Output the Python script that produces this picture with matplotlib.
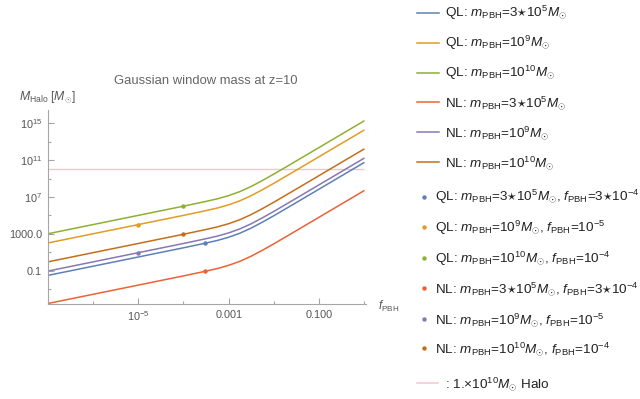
import numpy as np
import matplotlib
matplotlib.use('Agg')
import matplotlib.pyplot as plt
from matplotlib.lines import Line2D

plt.rcParams['font.family'] = 'Liberation Sans'
plt.rcParams['mathtext.fontset'] = 'custom'
plt.rcParams['mathtext.rm'] = 'Liberation Sans'
plt.rcParams['mathtext.it'] = 'Liberation Sans:italic'
plt.rcParams['mathtext.bf'] = 'Liberation Sans:bold'
plt.rcParams['mathtext.fallback'] = 'cm'

# log10 f_PBH sample points
log_f = [-7, -6.5, -6, -5.5, -5, -4.5, -4, -3.75, -3.5, -3.25, -3, -2.75,
         -2.5, -2.25, -2, -1.75, -1.5, -1, -0.5, 0]

# log10 M_halo, quasi-linear (QL) and non-linear (NL)
ql_3e5 = [-1.52, -1.02, -0.52, -0.02, 0.48, 0.98, 1.48, 1.74, 2.00, 2.28, 2.63,
          3.07, 3.63, 4.28, 4.97, 5.69, 6.41, 7.86, 9.31, 10.76]
ql_1e9 = [2.00, 2.50, 3.00, 3.50, 4.00, 4.50, 5.00, 5.26, 5.52, 5.80, 6.15,
          6.59, 7.15, 7.80, 8.49, 9.21, 9.93, 11.38, 12.83, 14.28]
ql_1e10 = [3.00, 3.50, 4.00, 4.50, 5.00, 5.50, 6.00, 6.26, 6.52, 6.80, 7.15,
           7.59, 8.15, 8.80, 9.49, 10.21, 10.93, 12.38, 13.83, 15.28]
nl_3e5 = [-4.57, -4.07, -3.57, -3.07, -2.57, -2.07, -1.57, -1.31, -1.05, -0.77,
          -0.42, 0.02, 0.58, 1.23, 1.92, 2.64, 3.36, 4.81, 6.26, 7.71]
nl_1e9 = [-1.05, -0.55, -0.05, 0.45, 0.95, 1.45, 1.95, 2.21, 2.47, 2.75, 3.10,
          3.54, 4.10, 4.75, 5.44, 6.16, 6.88, 8.33, 9.78, 11.23]
nl_1e10 = [-0.05, 0.45, 0.95, 1.45, 1.95, 2.45, 2.95, 3.21, 3.47, 3.75, 4.10,
           4.54, 5.10, 5.75, 6.44, 7.16, 7.88, 9.33, 10.78, 12.23]

# single points
dot_f = [3e-4, 1e-5, 1e-4, 3e-4, 1e-5, 1e-4]
dot_logm = [2.01, 4.00, 6.00, -1.04, 0.95, 2.95]

halo_mass = 1e10

colors = ['#5E81B5', '#E19C24', '#8FB032', '#EB6235', '#8778B3', '#C56E1A']
pink = '#F8C4CA'

line_labels = [
    'QL: $m_{\\mathrm{PBH}}$=3$\\star$10$^{5}$$M_{\\odot}$',
    'QL: $m_{\\mathrm{PBH}}$=10$^{9}$$M_{\\odot}$',
    'QL: $m_{\\mathrm{PBH}}$=10$^{10}$$M_{\\odot}$',
    'NL: $m_{\\mathrm{PBH}}$=3$\\star$10$^{5}$$M_{\\odot}$',
    'NL: $m_{\\mathrm{PBH}}$=10$^{9}$$M_{\\odot}$',
    'NL: $m_{\\mathrm{PBH}}$=10$^{10}$$M_{\\odot}$',
]
dot_labels = [
    'QL: $m_{\\mathrm{PBH}}$=3$\\star$10$^{5}$$M_{\\odot}$, $f_{\\mathrm{PBH}}$=3$\\star$10$^{-4}$',
    'QL: $m_{\\mathrm{PBH}}$=10$^{9}$$M_{\\odot}$, $f_{\\mathrm{PBH}}$=10$^{-5}$',
    'QL: $m_{\\mathrm{PBH}}$=10$^{10}$$M_{\\odot}$, $f_{\\mathrm{PBH}}$=10$^{-4}$',
    'NL: $m_{\\mathrm{PBH}}$=3$\\star$10$^{5}$$M_{\\odot}$, $f_{\\mathrm{PBH}}$=3$\\star$10$^{-4}$',
    'NL: $m_{\\mathrm{PBH}}$=10$^{9}$$M_{\\odot}$, $f_{\\mathrm{PBH}}$=10$^{-5}$',
    'NL: $m_{\\mathrm{PBH}}$=10$^{10}$$M_{\\odot}$, $f_{\\mathrm{PBH}}$=10$^{-4}$',
]
halo_label = ': 1.$\\times$10$^{10}$$M_{\\odot}$ Halo'

W, H = 640, 399
fig = plt.figure(figsize=(6.4, 3.99), dpi=100)
ax = fig.add_axes([47.7 / W, 1 - 304 / H, 318.6 / W, 194 / H])

f = 10.0 ** np.array(log_f)
series = [ql_3e5, ql_1e9, ql_1e10, nl_3e5, nl_1e9, nl_1e10]
for vals, c in zip(series, colors):
    ax.plot(f, 10.0 ** np.array(vals), color=c, lw=1.1, solid_capstyle='butt')
for x, y, c in zip(dot_f, dot_logm, colors):
    ax.plot(x, 10.0 ** y, 'o', color=c, ms=3.2, mew=0)
ax.hlines(halo_mass, 1e-7, 1.0, color=pink, lw=1.0, zorder=0)

ax.set_xscale('log')
ax.set_yscale('log')
ax.set_xlim(1e-7, 10 ** 0.04)
ax.set_ylim(10 ** -4.62, 10 ** 16.44)

axis_gray = '#a6a6a6'
label_gray = '#555555'
for s in ['top', 'right']:
    ax.spines[s].set_visible(False)
for s in ['left', 'bottom']:
    ax.spines[s].set_color(axis_gray)
    ax.spines[s].set_linewidth(0.8)

ax.set_xticks([1e-5, 1e-3, 1e-1])
ax.set_xticklabels(['10$^{-5}$', '0.001', '0.100'])
ax.set_xticks([1e-7, 1e-6, 1e-4, 1e-2, 1.0], minor=True)
ax.set_yticks([1e-1, 1e3, 1e7, 1e11, 1e15])
ax.set_yticklabels(['0.1', '1000.0', '10$^{7}$', '10$^{11}$', '10$^{15}$'])
ax.set_yticks([1e-3, 1e1, 1e5, 1e9, 1e13], minor=True)
ax.yaxis.set_minor_formatter(matplotlib.ticker.NullFormatter())
ax.xaxis.set_minor_formatter(matplotlib.ticker.NullFormatter())
ax.tick_params(which='both', direction='in', color=axis_gray, width=0.8,
               labelcolor=label_gray, labelsize=7.8)
ax.tick_params(which='major', length=4, pad=4)
ax.tick_params(which='minor', length=2.5)

fig.text(205.6 / W, 1 - 80.7 / H, 'Gaussian window mass at z=10',
         ha='center', va='center', fontsize=9.4, color='#666666')
fig.text(19 / W, 1 - 97 / H, '$M_{\\mathrm{Halo}}$ [$M_{\\odot}$]',
         ha='left', va='center', fontsize=8.8, color=label_gray)
fig.text(378 / W, 1 - 306 / H, '$f_{\\mathrm{PBH}}$',
         ha='left', va='center', fontsize=8.4, color=label_gray)

# legend, drawn entry by entry
leg_fs = 9.7
line_rows = [12.7, 42.7, 72.7, 102.3, 132.3, 162.3]
for row, c, lab in zip(line_rows, colors, line_labels):
    fig.add_artist(Line2D([417 / W, 439 / W], [1 - row / H] * 2, color=c, lw=1.1))
    fig.text(445 / W, 1 - (row + 4.6) / H, lab, ha='left', va='baseline',
             fontsize=leg_fs, color='#222222')
dot_rows = [196.7, 227.3, 258.3, 288.3, 319.3, 348.3]
for row, c, lab in zip(dot_rows, colors, dot_labels):
    fig.add_artist(Line2D([423.5 / W], [1 - row / H], marker='o', ms=3.2,
                          mew=0, color=c, ls='none'))
    fig.text(435 / W, 1 - (row + 4.6) / H, lab, ha='left', va='baseline',
             fontsize=leg_fs, color='#222222')
fig.add_artist(Line2D([417 / W, 438 / W], [1 - 383.3 / H] * 2, color=pink, lw=1.1))
fig.text(445 / W, 1 - (383.3 + 4.6) / H, halo_label, ha='left', va='baseline',
         fontsize=leg_fs, color='#222222')

fig.savefig('out.png', dpi=100)
